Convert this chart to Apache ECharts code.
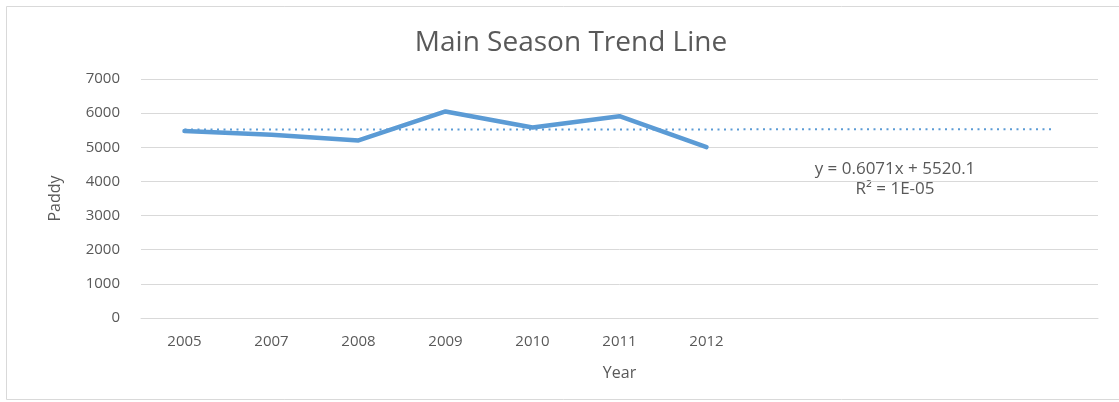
<!DOCTYPE html>
<html>
<head>
<meta charset="utf-8">
<title>Main Season Trend Line</title>
<script src="https://cdn.jsdelivr.net/npm/echarts@6/dist/echarts.min.js"></script>
<style>
  html, body { margin: 0; padding: 0; background: #ffffff; overflow: hidden; }
  #chart { width: 1119px; height: 402px; }
</style>
</head>
<body>
<div id="chart"></div>
<script>
// Paddy production per year (main season)
const years = ['2005', '2007', '2008', '2009', '2010', '2011', '2012'];
const paddy = [5475, 5370, 5200, 6050, 5580, 5910, 5006];
// Linear trendline as reported: y = slope * x + intercept, x = 1, 2, ...
const trendSlope = 0.6071;
const trendIntercept = 5520.1;
const trendForward = 4;          // periods the trendline is extended forward
const trendLabel = ['y = 0.6071x + 5520.1', 'R\u00B2 = 1E-05'];
const yTicks = { min: 0, max: 7000, interval: 1000 };

const categories = years.concat(new Array(trendForward).fill(''));
const paddySeries = paddy.concat(new Array(trendForward).fill(null));
const trendSeries = categories.map((_, i) => +(trendSlope * (i + 1) + trendIntercept).toFixed(1));

const textColor = '#595959';
const gridColor = '#d9d9d9';
const lineColor = '#5b9bd5';
const font = '"Open Sans", Lato, sans-serif';

const chart = echarts.init(document.getElementById('chart'), null, { renderer: 'canvas' });
chart.setOption({
  backgroundColor: '#ffffff',
  animation: false,
  textStyle: { fontFamily: font },
  title: {
    text: 'Main Season Trend Line',
    left: 566,
    textAlign: 'center',
    top: 24,
    textStyle: { fontFamily: font, fontSize: 28, fontWeight: 'normal', color: textColor }
  },
  graphic: [
    {
      type: 'rect',
      silent: true,
      shape: { x: 6.5, y: 6.5, width: 1300, height: 393 },
      style: { fill: 'none', stroke: gridColor, lineWidth: 1 }
    },
    {
      type: 'text',
      silent: true,
      x: 895,
      y: 179,
      style: {
        text: trendLabel.join('\n'),
        fontFamily: font,
        fontSize: 17,
        lineHeight: 20,
        fill: textColor,
        align: 'center',
        verticalAlign: 'middle'
      }
    }
  ],
  grid: { left: 141, right: 21, top: 79, bottom: 84, containLabel: false },
  xAxis: {
    type: 'category',
    data: categories,
    boundaryGap: true,
    name: 'Year',
    nameLocation: 'middle',
    nameGap: 47,
    nameTextStyle: { fontFamily: font, fontSize: 16, color: textColor },
    axisLine: { show: true, lineStyle: { color: gridColor, width: 1 } },
    axisTick: { show: false },
    axisLabel: { fontFamily: font, fontSize: 15, color: textColor, margin: 16, interval: 0 },
    splitLine: { show: false }
  },
  yAxis: {
    type: 'value',
    min: yTicks.min,
    max: yTicks.max,
    interval: yTicks.interval,
    name: 'Paddy',
    nameLocation: 'middle',
    nameGap: 78,
    nameRotate: 90,
    nameTextStyle: { fontFamily: font, fontSize: 16, color: textColor },
    axisLine: { show: false },
    axisTick: { show: false },
    axisLabel: {
      fontFamily: font, fontSize: 15, color: textColor, margin: 21,
      formatter: (v) => String(v)
    },
    splitLine: { show: true, lineStyle: { color: gridColor, width: 1 } }
  },
  series: [
    {
      name: 'Paddy',
      type: 'line',
      data: paddySeries,
      symbol: 'none',
      connectNulls: false,
      lineStyle: { color: lineColor, width: 4.5, cap: 'round', join: 'round' },
      z: 3
    },
    {
      name: 'Linear (Paddy)',
      type: 'line',
      data: trendSeries,
      symbol: 'none',
      lineStyle: { color: lineColor, width: 2, type: [2, 4.5] },
      z: 2
    }
  ]
});
</script>
</body>
</html>
